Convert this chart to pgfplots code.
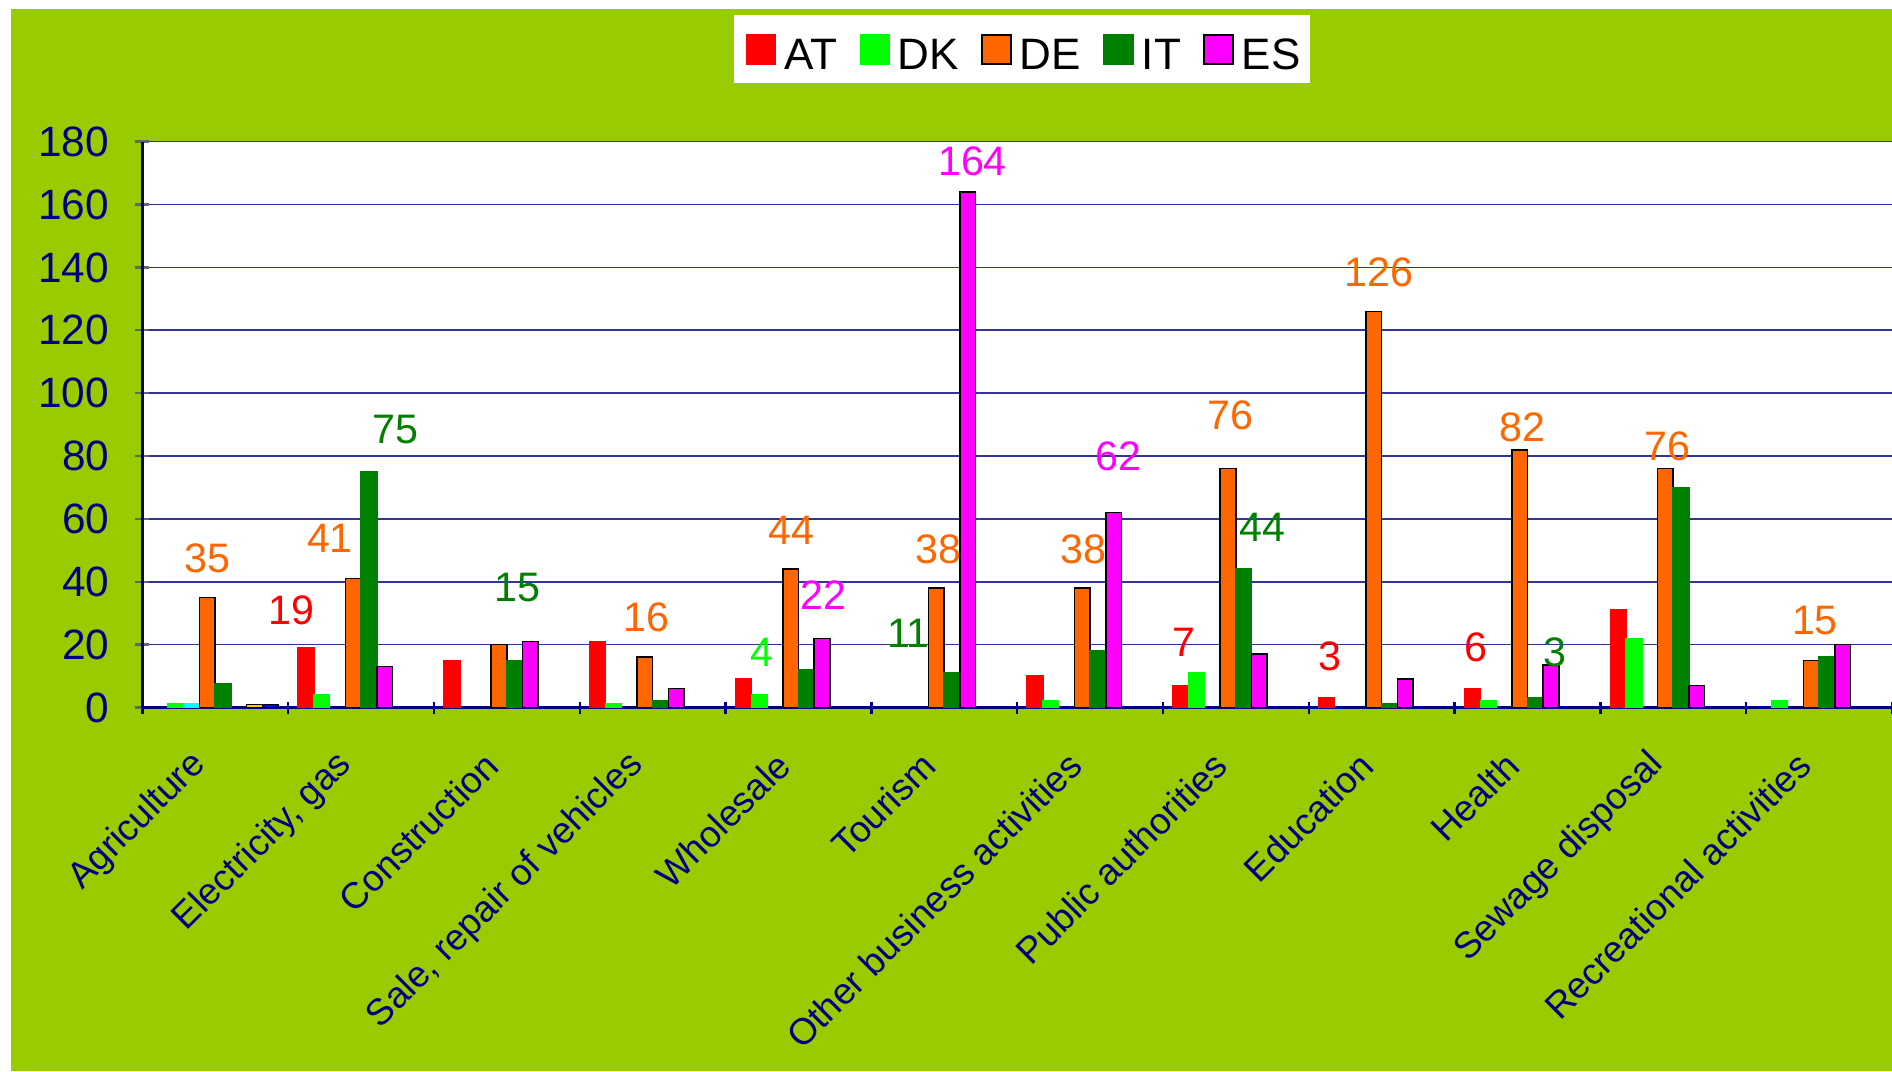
\documentclass[border=0pt]{standalone}
\usepackage{fontspec}
\setmainfont{Liberation Sans}
\usepackage{pgfplots}
\pgfplotsset{compat=1.18}

\definecolor{bg}{HTML}{99CC00}
\definecolor{navy}{HTML}{000080}
\definecolor{atc}{HTML}{FF0000}
\definecolor{dkc}{HTML}{00FF00}
\definecolor{dec}{HTML}{FF6600}
\definecolor{itc}{HTML}{008000}
\definecolor{esc}{HTML}{FF00FF}
\definecolor{cyc}{HTML}{00FFFF}
\definecolor{yec}{HTML}{FFCC00}
\definecolor{blc}{HTML}{0000FF}

\tikzset{lab/.style={font=\fontsize{10.3}{12}\selectfont}}

\begin{document}
\begin{tikzpicture}
\useasboundingbox (0,0) rectangle (473pt,267.75pt);
\clip (0,0) rectangle (473pt,267.75pt);
\fill[white] (0,0) rectangle (473pt,267.75pt);
\fill[bg] (2.75pt,0) rectangle (473pt,265.5pt);
\begin{axis}[
    at={(35.575pt,90.875pt)}, anchor=south west,
    scale only axis, width=437.4pt, height=141.45pt,
    ybar=0pt, bar width=3.925pt,
    xmin=-0.5, xmax=11.5, ymin=0, ymax=180,
    ytick={0,20,...,180},
    xtick={0,...,11},
    xticklabels={Agriculture,{Electricity, gas},Construction,{Sale, repair of vehicles},Wholesale,Tourism,Other business activities,Public authorities,Education,Health,Sewage disposal,Recreational activities},
    minor xtick={-0.5,0.5,...,11.5},
    major x tick style={draw=none},
    minor x tick style={navy, line width=0.6pt},
    y tick style={black!60, line width=0.6pt},
    major tick length=3.5pt, minor tick length=3pt,
    tick align=outside,
    axis x line=bottom, axis y line=left,
    axis line style={-, navy, line width=0.6pt},
    ymajorgrids, grid style={navy!80, line width=0.4pt},
    axis background/.style={fill=white},
    /pgf/number format/assume math mode=true,
    yticklabel style={font=\fontsize{10.6}{12}\selectfont, text=navy, xshift=-3pt},
    xticklabel style={font=\fontsize{9.2}{11}\selectfont, text=navy, xshift=-1.3pt, yshift=-8.7pt, rotate=45, anchor=east},
    legend columns=-1,
    legend style={at={(0.3376,1.2248)}, anchor=north west, draw=none, fill=white,
      font=\fontsize{11}{12}\selectfont, inner xsep=0.3pt, inner ysep=2.5pt,
      nodes={inner ysep=0pt, text height=11pt, text depth=1pt},
      /tikz/every even column/.append style={column sep=0.9pt}},
    legend image code/.code={\path (-2.7pt,0pt);
      \draw[#1, line width=0.4pt] (0pt,-3.6pt) rectangle (7.2pt,3.6pt);},
  ]
\addplot[bar shift=-13.7375pt, fill=atc, draw=atc] coordinates {(1,19) (2,15) (3,21) (4,9) (6,10) (7,7) (8,3) (9,6) (10,31)};
\addlegendentry{AT}
\addplot[bar shift=-9.8125pt, fill=dkc, draw=dkc] coordinates {(0,1.3) (1,4) (3,1.3) (4,4) (6,2) (7,11) (9,2) (10,22) (11,2)};
\addlegendentry{DK}
\addplot[forget plot, bar shift=-5.8875pt, fill=cyc, draw=cyc] coordinates {(0,1.3)};
\addplot[bar shift=-1.9625pt, fill=dec, draw=black, line width=0.4pt] coordinates {(0,35) (1,41) (2,20) (3,16) (4,44) (5,38) (6,38) (7,76) (8,126) (9,82) (10,76) (11,15)};
\addlegendentry{DE}
\addplot[bar shift=1.9625pt, fill=itc, draw=itc] coordinates {(0,7.4) (1,75) (2,15) (3,2) (4,12) (5,11) (6,18) (7,44) (8,1.3) (9,3) (10,70) (11,16)};
\addlegendentry{IT}
\addplot[bar shift=5.8875pt, fill=esc, draw=black, line width=0.4pt] coordinates {(1,13) (2,21) (3,6) (4,22) (5,164) (6,62) (7,17) (8,9) (9,13.5) (10,7) (11,20)};
\addlegendentry{ES}
\addplot[forget plot, bar shift=9.8125pt, fill=yec, draw=black, line width=0.4pt] coordinates {(0,1)};
\addplot[forget plot, bar shift=13.7375pt, fill=blc, draw=black, line width=0.4pt] coordinates {(0,1)};

\node[lab, text=dec] at (axis cs:-0.054,47.5) {35};
\node[lab, text=atc] at (axis cs:0.525,31.0) {19};
\node[lab, text=dec] at (axis cs:0.787,53.8) {41};
\node[lab, text=itc] at (axis cs:1.239,88.5) {75};
\node[lab, text=itc] at (axis cs:2.070,38.3) {15};
\node[lab, text=dec] at (axis cs:2.960,28.8) {16};
\node[lab, text=dkc] at (axis cs:3.752,17.7) {4};
\node[lab, text=dec] at (axis cs:3.954,56.3) {44};
\node[lab, text=esc] at (axis cs:4.172,35.6) {22};
\node[lab, text=itc] at (axis cs:4.755,23.7) {11};
\node[lab, text=dec] at (axis cs:4.961,50.4) {38};
\node[lab, text=esc] at (axis cs:5.194,173.7) {164};
\node[lab, text=dec] at (axis cs:5.954,50.4) {38};
\node[lab, text=esc] at (axis cs:6.195,79.9) {62};
\node[lab, text=atc] at (axis cs:6.645,20.7) {7};
\node[lab, text=dec] at (axis cs:6.965,93.0) {76};
\node[lab, text=itc] at (axis cs:7.185,57.3) {44};
\node[lab, text=atc] at (axis cs:7.646,16.2) {3};
\node[lab, text=dec] at (axis cs:7.983,138.3) {126};
\node[lab, text=atc] at (axis cs:8.647,19.2) {6};
\node[lab, text=dec] at (axis cs:8.968,89.2) {82};
\node[lab, text=itc] at (axis cs:9.191,17.4) {3};
\node[lab, text=dec] at (axis cs:9.961,83.1) {76};
\node[lab, text=dec] at (axis cs:10.972,27.8) {15};
\end{axis}
\end{tikzpicture}
\end{document}
